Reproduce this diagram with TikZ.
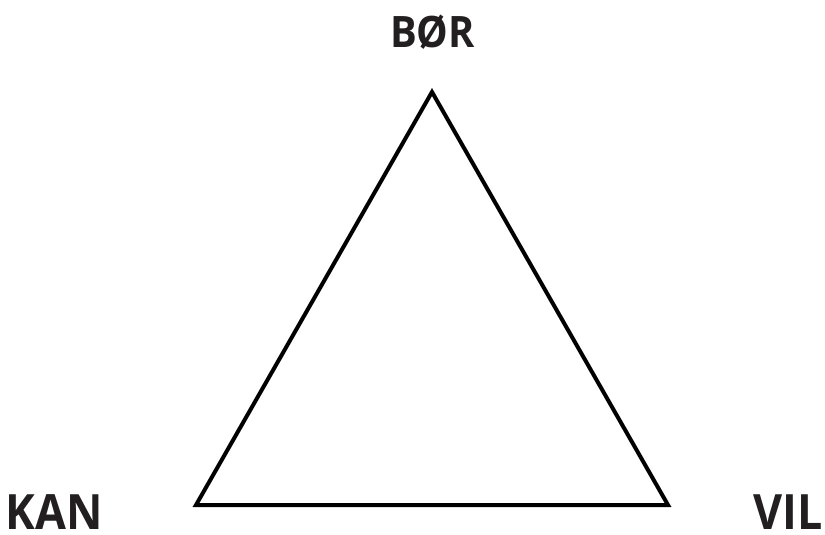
\documentclass[tikz,border=0pt]{standalone}
\usepackage{fontspec}
\newfontfamily\labelfont[FakeStretch=0.92]{Open Sans}
\definecolor{labelgray}{RGB}{35,31,32}
\tikzset{every picture/.style={line width=0.75pt}}
\tikzset{cornerlabel/.style={anchor=base,inner sep=0pt,text depth=0pt,text=labelgray,font=\labelfont\fontsize{36.5}{42}\selectfont\bfseries}}

\begin{document}
\begin{tikzpicture}[x=0.75pt,y=0.75pt,yscale=-1,xscale=1]
\useasboundingbox (0,0) rectangle (825,535);

%Shape: Triangle
\coordinate (bor) at (432,92);
\coordinate (kan) at (196,505);
\coordinate (vil) at (668,505);
\draw [line width=3pt,line join=miter] (bor) -- (vil) -- (kan) -- cycle ;

% Text Node
\node [cornerlabel,font=\labelfont\fontsize{32.5}{38}\selectfont\bfseries] (borlabel) at (432.5,47.5) {BØR};
% Text Node
\node [cornerlabel] (kanlabel) at (54,529) {KAN};
% Text Node
\node [cornerlabel] (villabel) at (788,529) {VIL};

\end{tikzpicture}
\end{document}
